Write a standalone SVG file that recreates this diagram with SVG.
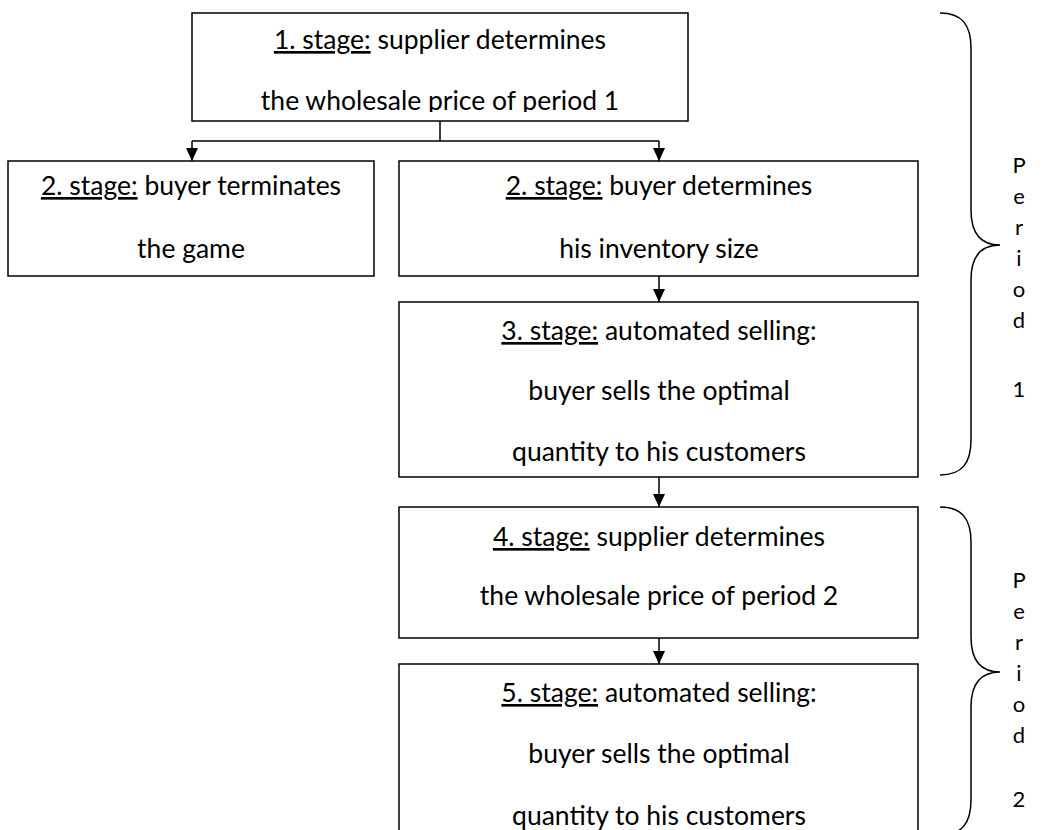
<svg xmlns="http://www.w3.org/2000/svg" width="1050" height="830" viewBox="0 0 1050 830">
<style>
.box{fill:#fff;stroke:#000;stroke-width:1.5}
.t{font-family:Lato,"Open Sans",sans-serif;font-size:26.5px;fill:#000;text-anchor:middle}
.u{text-decoration:underline}
.c{fill:none;stroke:#000;stroke-width:1.5}
.br{fill:none;stroke:#000;stroke-width:1.5}
.p{font-family:Lato,"Open Sans",sans-serif;font-size:22px;fill:#000;text-anchor:middle}
</style>
<defs>
<marker id="ah" markerUnits="userSpaceOnUse" markerWidth="12" markerHeight="13" refX="13" refY="6" orient="auto">
<path d="M0,0 L13,6 L0,12 Z" fill="#000"/>
</marker>
<clipPath id="clip1"><rect x="192" y="13" width="496" height="99"/></clipPath>
</defs>
<rect width="1050" height="830" fill="#fff"/>
<g id="stage1">
<rect class="box" x="192" y="13" width="496" height="108"/>
<g clip-path="url(#clip1)">
<text class="t" x="440" y="49"><tspan class="u">1. stage:</tspan> supplier determines</text>
<text class="t" x="440" y="110">the wholesale price of period 1</text>
</g>
</g>
<g id="stage2a">
<rect class="box" x="8" y="161" width="366" height="115"/>
<text class="t" x="191" y="195"><tspan class="u">2. stage:</tspan> buyer terminates</text>
<text class="t" x="191" y="258">the game</text>
</g>
<g id="stage2b">
<rect class="box" x="399" y="161" width="519" height="115"/>
<text class="t" x="659" y="195"><tspan class="u">2. stage:</tspan> buyer determines</text>
<text class="t" x="659" y="258">his inventory size</text>
</g>
<g id="stage3">
<rect class="box" x="399" y="302" width="519" height="175"/>
<text class="t" x="659" y="340"><tspan class="u">3. stage:</tspan> automated selling:</text>
<text class="t" x="659" y="400">buyer sells the optimal</text>
<text class="t" x="659" y="461">quantity to his customers</text>
</g>
<g id="stage4">
<rect class="box" x="399" y="507" width="519" height="131"/>
<text class="t" x="659" y="546"><tspan class="u">4. stage:</tspan> supplier determines</text>
<text class="t" x="659" y="605">the wholesale price of period 2</text>
</g>
<g id="stage5">
<rect class="box" x="399" y="664" width="519" height="190"/>
<text class="t" x="659" y="702"><tspan class="u">5. stage:</tspan> automated selling:</text>
<text class="t" x="659" y="763">buyer sells the optimal</text>
<text class="t" x="659" y="825">quantity to his customers</text>
</g>
<g id="connectors">
<path class="c" d="M440,121 L440,141 M192,141 L659,141"/>
<line class="c" x1="192" y1="141" x2="192" y2="161" marker-end="url(#ah)"/>
<line class="c" x1="659" y1="141" x2="659" y2="161" marker-end="url(#ah)"/>
<line class="c" x1="659" y1="276" x2="659" y2="302" marker-end="url(#ah)"/>
<line class="c" x1="659" y1="477" x2="659" y2="507" marker-end="url(#ah)"/>
<line class="c" x1="659" y1="638" x2="659" y2="664" marker-end="url(#ah)"/>
</g>
<g id="period1">
<path class="br" d="M940,13 C962,13 971,25 971,48 L971,210 C971,232 980,245 1000,245 C980,245 971,258 971,280 L971,440 C971,463 962,475 940,475"/>
<text class="p" x="1019" y="173">P</text>
<text class="p" x="1019" y="204">e</text>
<text class="p" x="1019" y="235">r</text>
<text class="p" x="1019" y="266">i</text>
<text class="p" x="1019" y="297">o</text>
<text class="p" x="1019" y="328">d</text>
<text class="p" x="1019" y="397">1</text>
</g>
<g id="period2">
<path class="br" d="M940,507 C962,507 971,519 971,542 L971,637 C971,659 980,672 1000,672 C980,672 971,685 971,707 L971,800 C971,823 962,835 940,835"/>
<text class="p" x="1019" y="588">P</text>
<text class="p" x="1019" y="619">e</text>
<text class="p" x="1019" y="650">r</text>
<text class="p" x="1019" y="681">i</text>
<text class="p" x="1019" y="712">o</text>
<text class="p" x="1019" y="743">d</text>
<text class="p" x="1019" y="807">2</text>
</g>
</svg>
